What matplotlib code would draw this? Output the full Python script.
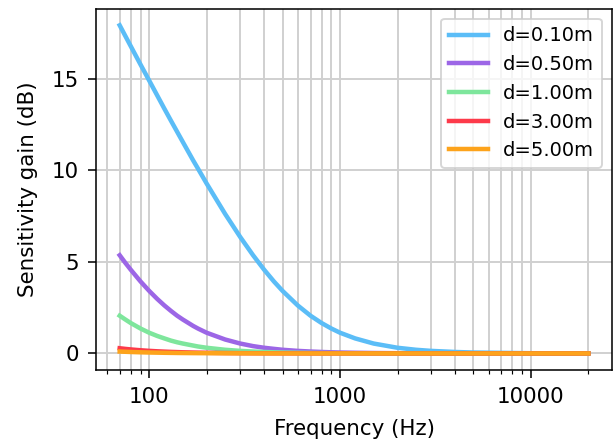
import matplotlib
matplotlib.use("Agg")
import matplotlib.pyplot as plt
from matplotlib.ticker import LogLocator, FixedLocator, NullFormatter, FixedFormatter

freqs = [70, 75, 80, 90, 100, 110, 120, 130, 140, 150, 170, 180, 200, 250, 300,
         350, 400, 450, 500, 600, 700, 800, 900, 1000, 1200, 1500, 2000, 2500,
         3000, 4000, 5000, 10000, 20000]

gain_d010 = [17.91, 17.32, 16.77, 15.77, 14.89, 14.09, 13.36, 12.70, 12.10, 11.54,
             10.53, 10.09, 9.27, 7.61, 6.35, 5.36, 4.57, 3.93, 3.41, 2.62, 2.06,
             1.66, 1.36, 1.13, 0.82, 0.54, 0.31, 0.20, 0.14, 0.08, 0.05, 0.013, 0.003]
gain_d050 = [5.36, 4.94, 4.57, 3.93, 3.41, 2.98, 2.62, 2.32, 2.06, 1.85, 1.50, 1.36,
             1.13, 0.76, 0.54, 0.40, 0.31, 0.25, 0.20, 0.14, 0.104, 0.08, 0.063,
             0.05, 0.036, 0.023, 0.013, 0.008, 0.006, 0.003, 0.002, 0.0005, 0.0001]
gain_d100 = [2.06, 1.85, 1.66, 1.36, 1.13, 0.956, 0.82, 0.70, 0.61, 0.54, 0.43, 0.38,
             0.31, 0.20, 0.14, 0.104, 0.08, 0.063, 0.05, 0.036, 0.026, 0.020, 0.016,
             0.013, 0.009, 0.006, 0.003, 0.002, 0.0014, 0.0008, 0.0005, 0.0001, 0.0]
gain_d300 = [0.284, 0.248, 0.219, 0.174, 0.141, 0.117, 0.099, 0.084, 0.073, 0.063,
             0.049, 0.044, 0.036, 0.023, 0.016, 0.012, 0.009, 0.007, 0.006, 0.004,
             0.003, 0.002, 0.0018, 0.0014, 0.001, 0.0006, 0.0004, 0.0002, 0.0002,
             0.0001, 0.0, 0.0, 0.0]
gain_d500 = [0.104, 0.091, 0.080, 0.063, 0.051, 0.043, 0.036, 0.031, 0.026, 0.023,
             0.018, 0.016, 0.013, 0.008, 0.006, 0.004, 0.003, 0.0026, 0.0019, 0.0014,
             0.0011, 0.0008, 0.0006, 0.0005, 0.0004, 0.0002, 0.0001, 0.0001, 0.0,
             0.0, 0.0, 0.0, 0.0]

labels = ["d=0.10m", "d=0.50m", "d=1.00m", "d=3.00m", "d=5.00m"]
series = [gain_d010, gain_d050, gain_d100, gain_d300, gain_d500]
colors = ["#5bbdf7", "#9c66e6", "#7ee69c", "#fd3a4a", "#fda31b"]

x_ticks = [100, 1000, 10000]
x_ticklabels = ["100", "1000", "10000"]
y_ticks = [0, 5, 10, 15]

plt.rcParams["font.size"] = 11
dpi = 140
fig = plt.figure(figsize=(613 / dpi, 444 / dpi), dpi=dpi)
ax = fig.add_axes([0.157, 0.167, 0.841, 0.813])

for ys, lab, c in zip(series, labels, colors):
    ax.plot(freqs, ys, color=c, lw=2.3, label=lab)

ax.set_xscale("log")
ax.xaxis.set_major_locator(FixedLocator(x_ticks))
ax.xaxis.set_major_formatter(FixedFormatter(x_ticklabels))
ax.xaxis.set_minor_locator(LogLocator(base=10, subs=range(2, 10), numticks=20))
ax.xaxis.set_minor_formatter(NullFormatter())
ax.set_yticks(y_ticks)
ax.tick_params(which="major", length=4, pad=5)
ax.tick_params(which="minor", length=2)

ax.grid(True, which="major", color="#d0d0d0", lw=1.0)
ax.grid(True, which="minor", axis="x", color="#d0d0d0", lw=1.0)
ax.set_axisbelow(True)

ax.set_xlabel("Frequency (Hz)", labelpad=6)
ax.set_ylabel("Sensitivity gain (dB)", labelpad=7)
ax.legend(loc="upper right", fontsize=10)

fig.savefig("out.png", dpi=dpi)
